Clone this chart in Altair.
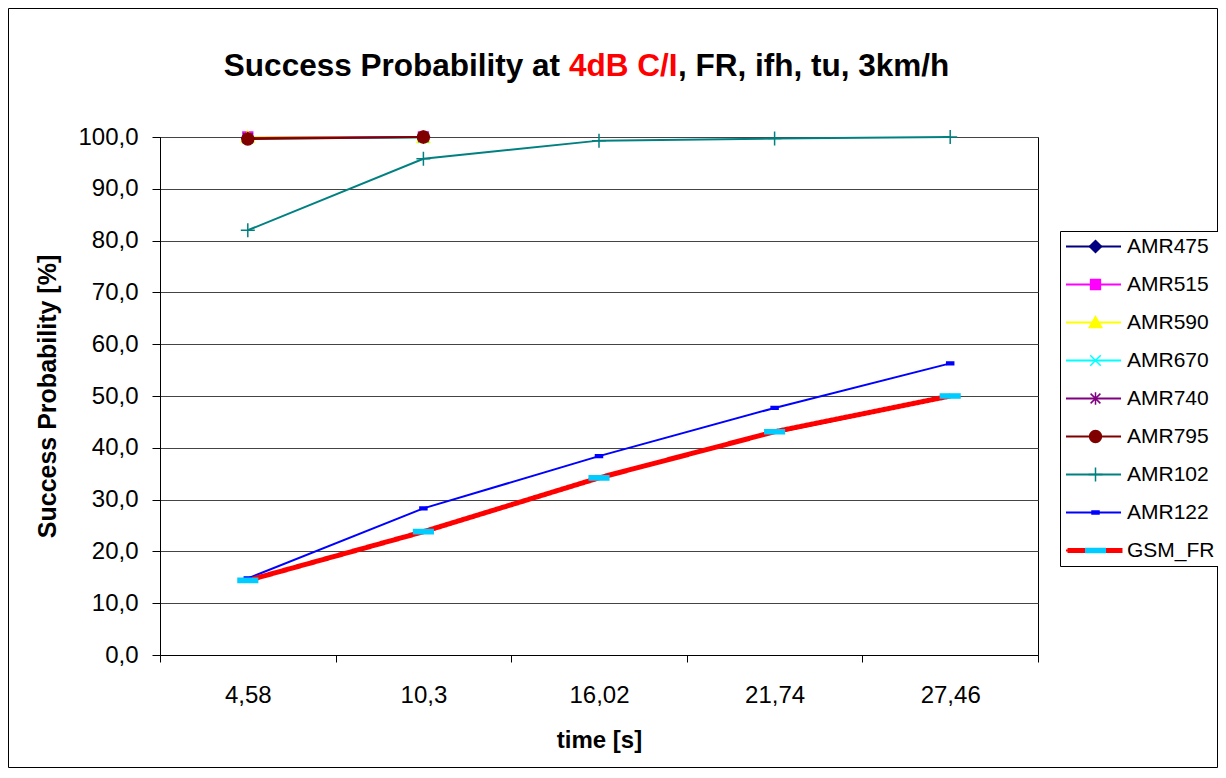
import altair as alt
import pandas as pd

# ---------------- data ----------------
times = ["4,58", "10,3", "16,02", "21,74", "27,46"]
series = ["AMR475", "AMR515", "AMR590", "AMR670", "AMR740", "AMR795", "AMR102", "AMR122", "GSM_FR"]

amr475 = [99.8, 100.0, None, None, None]
amr515 = [100.0, 100.0, None, None, None]
amr590 = [100.0, 99.9, None, None, None]
amr670 = [99.7, 99.9, None, None, None]
amr740 = [99.8, 100.0, None, None, None]
amr795 = [99.6, 100.0, None, None, None]
amr102 = [82.0, 95.8, 99.3, 99.7, 100.0]
amr122 = [14.8, 28.3, 38.4, 47.7, 56.3]
gsm_fr = [14.4, 23.8, 34.2, 43.1, 50.0]

values = [amr475, amr515, amr590, amr670, amr740, amr795, amr102, amr122, gsm_fr]

line_colors = ["#000080", "#FF00FF", "#FFFF00", "#00FFFF", "#800080", "#800000", "#008080", "#0000FF", "#FF0000"]
marker_colors = ["#000080", "#FF00FF", "#FFFF00", "#00FFFF", "#800080", "#800000", "#008080", "#0000FF", "#00CCFF"]
marker_shapes = [
    "M0,-0.86L0.86,0L0,0.86L-0.86,0Z",                       # diamond
    "M-0.7,-0.7L0.7,-0.7L0.7,0.7L-0.7,0.7Z",                 # square
    "M0,-0.85L0.9,0.7L-0.9,0.7Z",                            # triangle
    "M-0.75,-0.75L0.75,0.75M-0.75,0.75L0.75,-0.75",          # x
    "M-0.7,-0.7L0.7,0.7M-0.7,0.7L0.7,-0.7M0,-0.9L0,0.9",     # asterisk
    "M0.85,0A0.85,0.85,0,1,1,-0.85,0A0.85,0.85,0,1,1,0.85,0Z",  # circle
    "M-1,0L1,0M0,-1L0,1",                                    # plus
    "M-0.5,-0.2L0.5,-0.2L0.5,0.2L-0.5,0.2Z",                 # short dash
    "M-1.4,-0.3L1.4,-0.3L1.4,0.3L-1.4,0.3Z",                 # long dash
]

title_parts = ["Success Probability at", "4dB C/I", ", FR, ifh, tu, 3km/h"]

rows = []
for s, vals in zip(series, values):
    for t, v in zip(times, vals):
        if v is not None:
            rows.append({"series": s, "marker": s + "_m", "gsm": s + "_w", "time": t, "value": v})
df = pd.DataFrame(rows)
markers = [s + "_m" for s in series]

FONT = "Liberation Sans"
LEG_X = 900
LEG_Y = 94
ROW = 38
SYM_W = 55

x_enc = alt.X(
    "time:N",
    sort=times,
    scale=alt.Scale(type="band", domain=times, paddingInner=0, paddingOuter=0),
    axis=alt.Axis(
        tickBand="extent", labelAngle=0, labelFont=FONT, labelFontSize=24, labelColor="black",
        labelBaseline="alphabetic", labelPadding=40, tickSize=7, tickColor="black",
        domainColor="black", grid=False, title="time [s]", titleFont=FONT, titleFontSize=24,
        titleFontWeight="bold", titleColor="black", titleX=439, titleY=92,
        titleBaseline="alphabetic", titleAlign="center",
    ),
)
y_enc = alt.Y(
    "value:Q",
    scale=alt.Scale(domain=[0, 100], nice=False, zero=True),
    axis=alt.Axis(
        values=list(range(0, 101, 10)),
        labelExpr="replace(format(datum.value, '.1f'), '.', ',')",
        labelFont=FONT, labelFontSize=24, labelColor="black", labelPadding=14,
        tickSize=8, tickColor="black", domainColor="black",
        grid=True, gridColor="#444444", gridWidth=1,
        title="Success Probability [%]", titleFont=FONT, titleFontSize=25,
        titleFontWeight="bold", titleColor="black", titleX=-105, titleY=259,
        titleAngle=270, titleBaseline="alphabetic", titleAlign="center",
    ),
)

common_leg = dict(title=None, orient="none", clipHeight=21, rowPadding=16, padding=5,
                  labelFont=FONT, labelFontSize=21)

legend_lines = alt.Legend(
    legendX=LEG_X, legendY=LEG_Y, symbolType="stroke", symbolSize=SYM_W * SYM_W,
    labelColor="black", labelOffset=5, strokeColor="black", fillColor="white",
    symbolStrokeWidth=2, zindex=0, **common_leg,
)
legend_gsm = alt.Legend(
    legendX=LEG_X, legendY=LEG_Y + 8 * ROW, symbolType="stroke", symbolSize=SYM_W * SYM_W,
    labelExpr="''", labelOffset=5, symbolStrokeWidth=5, symbolStrokeColor="#FF0000",
    zindex=1, **common_leg,
)
legend_markers = alt.Legend(
    legendX=LEG_X + 20, legendY=LEG_Y, symbolSize=196, labelExpr="''",
    symbolStrokeWidth=1.5, symbolOpacity=1, zindex=2, **common_leg,
)

color_enc = alt.Color("series:N", scale=alt.Scale(domain=series, range=line_colors), legend=legend_lines)

base = alt.Chart(df)

lines_main = base.transform_filter("datum.series !== 'GSM_FR'").mark_line(strokeWidth=2).encode(
    x=x_enc, y=y_enc, color=color_enc
)
lines_gsm = base.transform_filter("datum.series === 'GSM_FR'").mark_line(strokeWidth=5, color="#FF0000").encode(
    x=x_enc, y=y_enc,
    strokeDash=alt.StrokeDash("gsm:N", scale=alt.Scale(domain=["GSM_FR_w"], range=[[1, 0]]), legend=legend_gsm),
)
points = base.mark_point(filled=True, size=196, strokeWidth=1.5, opacity=1).encode(
    x=x_enc, y=y_enc,
    fill=alt.Fill("marker:N", scale=alt.Scale(domain=markers, range=marker_colors), legend=legend_markers),
    stroke=alt.Stroke("marker:N", scale=alt.Scale(domain=markers, range=marker_colors), legend=legend_markers),
    shape=alt.Shape("marker:N", scale=alt.Scale(domain=markers, range=marker_shapes), legend=legend_markers),
)

frame = alt.Chart(pd.DataFrame({"f": [0]})).mark_rect(fillOpacity=0, stroke="black", strokeWidth=1).encode(
    x=alt.value(-151.5), x2=alt.value(1057.5), y=alt.value(-128.5), y2=alt.value(630.5)
)

TS = 31.5
t1 = alt.Chart(pd.DataFrame({"t": [title_parts[0]]})).mark_text(
    align="right", baseline="alphabetic", font=FONT, fontSize=TS, fontWeight="bold", color="black"
).encode(x=alt.value(400), y=alt.value(-61), text="t:N")
t2 = alt.Chart(pd.DataFrame({"t": [title_parts[1]]})).mark_text(
    align="left", baseline="alphabetic", font=FONT, fontSize=TS, fontWeight="bold", color="#FF0000"
).encode(x=alt.value(409), y=alt.value(-61), text="t:N")
t3 = alt.Chart(pd.DataFrame({"t": [title_parts[2]]})).mark_text(
    align="left", baseline="alphabetic", font=FONT, fontSize=TS, fontWeight="bold", color="black"
).encode(x=alt.value(518), y=alt.value(-61), text="t:N")

chart = alt.layer(frame, lines_main, lines_gsm, points, t1, t2, t3).properties(
    width=878, height=518,
    padding={"left": 152, "top": 129, "right": 180, "bottom": 113},
    autosize=alt.AutoSizeParams(type="none"),
    background="white",
).configure_view(stroke="black", strokeWidth=1)

chart.save("out.html", embed_options={"renderer": "svg", "actions": False})
